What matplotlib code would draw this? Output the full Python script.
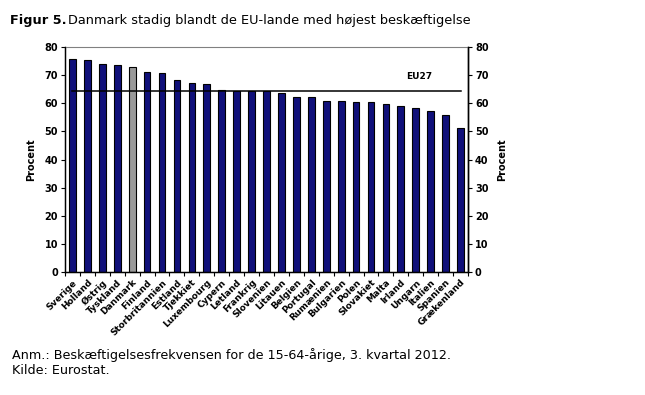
import numpy as np
import matplotlib.pyplot as plt

# Data (beskaeftigelsesfrekvens 15-64-aarige, 3. kvt. 2012)
lande = ['Sverige', 'Holland', 'Østrig', 'Tyskland', 'Danmark', 'Finland',
         'Storbritannien', 'Estland', 'Tjekkiet', 'Luxembourg', 'Cypern',
         'Letland', 'Frankrig', 'Slovenien', 'Litauen', 'Belgien', 'Portugal',
         'Rumænien', 'Bulgarien', 'Polen', 'Slovakiet', 'Malta', 'Irland',
         'Ungarn', 'Italien', 'Spanien', 'Grækenland']
procent = [75.5, 75.2, 73.8, 73.5, 72.7, 70.9, 70.6, 68.1, 67.0, 66.8, 64.6,
           64.4, 64.4, 64.2, 63.6, 62.1, 62.1, 60.6, 60.6, 60.3, 60.3, 59.6,
           58.9, 58.2, 57.1, 55.7, 51.1]
eu27 = 64.4
fremhaevet = 'Danmark'

plt.rcParams['font.family'] = ['DejaVu Sans']

fig = plt.figure(figsize=(6.45, 3.95), dpi=100)
ax = fig.add_axes([0.1008, 0.3106, 0.6248, 0.5712])

x = np.arange(len(lande))
farver = ['#999999' if l == fremhaevet else '#10107A' for l in lande]
ax.bar(x, procent, width=0.45, color=farver, edgecolor='black', linewidth=0.8, zorder=2)

# EU27 linje
ax.plot([x[0], x[-1]], [eu27, eu27], color='black', linewidth=1.1, zorder=3)
ax.text(23.2, 69.5, 'EU27', fontsize=6.5, fontweight='bold', ha='center', va='center')

ax.set_xlim(-0.5, len(lande) - 0.5)
ax.set_ylim(0, 80)
ax.set_yticks(range(0, 81, 10))
ax.tick_params(axis='y', labelsize=7, length=3, width=0.8, direction='out', pad=2)
for t in ax.get_yticklabels():
    t.set_fontweight('bold')

ax.set_xticks(x)
ax.set_xticklabels(lande, rotation=45, ha='right', rotation_mode='anchor',
                   fontsize=6.5, fontweight='bold')
ax.tick_params(axis='x', which='major', length=0, pad=4)
ax.set_xticks(np.arange(-0.5, len(lande), 1), minor=True)
ax.tick_params(axis='x', which='minor', length=3, width=0.8, direction='out')

ax.set_ylabel('Procent', fontsize=7, fontweight='bold', labelpad=6)

ax.spines['top'].set_color('#808080')
ax.spines['top'].set_linewidth(0.8)
for s in ['left', 'bottom', 'right']:
    ax.spines[s].set_linewidth(1.0)

ax2 = ax.twinx()
ax2.set_ylim(0, 80)
ax2.set_yticks(range(0, 81, 10))
ax2.tick_params(axis='y', labelsize=7, length=3, width=0.8, direction='out', pad=2)
for t in ax2.get_yticklabels():
    t.set_fontweight('bold')
ax2.set_ylabel('Procent', fontsize=7, fontweight='bold', labelpad=6)
ax2.spines['top'].set_visible(False)
ax2.spines['right'].set_linewidth(1.0)

# Titel og noter
fig.text(0.016, 0.947, 'Figur 5.', fontsize=9.3, fontweight='bold', va='center')
fig.text(0.106, 0.947, 'Danmark stadig blandt de EU-lande med højest beskæftigelse',
         fontsize=9.3, va='center')
fig.text(0.019, 0.101, 'Anm.: Beskæftigelsesfrekvensen for de 15-64-årige, 3. kvartal 2012.',
         fontsize=9.2, va='center')
fig.text(0.019, 0.061, 'Kilde: Eurostat.', fontsize=9.2, va='center')

plt.savefig('out.png', dpi=100)
